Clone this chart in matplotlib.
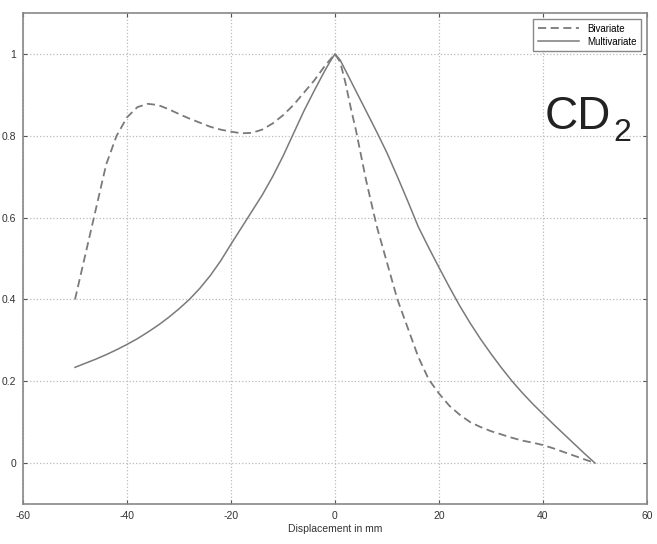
import numpy as np
import matplotlib.pyplot as plt

# Bivariate (dashed)
x_biv = [-50, -48, -46, -44, -42, -40, -38, -36, -34, -32, -30, -28, -26, -24, -22,
         -20, -18, -16, -14, -12, -10, -8, -6, -4, -2, 0, 1, 2, 3, 4, 6, 8, 10,
         12, 14, 16, 18, 20, 22, 24, 26, 28, 30, 32, 34, 36, 38, 40, 42, 44, 46, 48, 50]
y_biv = [0.40, 0.51, 0.62, 0.73, 0.80, 0.845, 0.87, 0.878, 0.875, 0.865, 0.853, 0.842,
         0.832, 0.822, 0.815, 0.81, 0.806, 0.807, 0.815, 0.83, 0.85, 0.875, 0.905, 0.935,
         0.97, 1.0, 0.98, 0.93, 0.87, 0.815, 0.69, 0.58, 0.49, 0.40, 0.33, 0.26, 0.205,
         0.17, 0.14, 0.118, 0.10, 0.088, 0.078, 0.07, 0.062, 0.055, 0.05, 0.044, 0.036,
         0.027, 0.018, 0.009, 0.0]

# Multivariate (solid)
x_mul = [-50, -48, -46, -44, -42, -40, -38, -36, -34, -32, -30, -28, -26, -24, -22,
         -20, -18, -16, -14, -12, -10, -8, -6, -4, -2, -1, 0, 1, 2, 4, 6, 8, 10,
         12, 14, 16, 18, 20, 22, 24, 26, 28, 30, 32, 34, 36, 38, 40, 42, 44, 46, 48, 50]
y_mul = [0.234, 0.244, 0.254, 0.265, 0.277, 0.29, 0.304, 0.32, 0.337, 0.356, 0.377,
         0.40, 0.427, 0.458, 0.494, 0.535, 0.575, 0.615, 0.655, 0.70, 0.75, 0.805,
         0.86, 0.91, 0.958, 0.98, 1.0, 0.985, 0.96, 0.91, 0.86, 0.81, 0.758, 0.70,
         0.64, 0.578, 0.527, 0.478, 0.43, 0.384, 0.342, 0.303, 0.267, 0.233, 0.201,
         0.172, 0.145, 0.12, 0.095, 0.071, 0.047, 0.023, 0.0]

xticks = [-60, -40, -20, 0, 20, 40, 60]
yticks = [0, 0.2, 0.4, 0.6, 0.8, 1]
ytick_labels = ['0', '0.2', '0.4', '0.6', '0.8', '1']

plt.rcParams['font.family'] = ['Liberation Sans', 'DejaVu Sans']
plt.rcParams['axes.unicode_minus'] = False

fig = plt.figure(figsize=(6.57, 5.44), dpi=100)
ax = fig.add_axes([23/657, 1-504/544, 624/657, 491/544])

ax.plot(x_biv, y_biv, color='#7a7a7a', lw=1.3, ls=(0, (4.5, 2.5)), label='Bivariate')
ax.plot(x_mul, y_mul, color='#7a7a7a', lw=1.1, ls='-', label='Multivariate')

ax.set_xlim(-60, 60)
ax.set_ylim(-0.1, 1.1)
ax.set_xticks(xticks)
ax.set_yticks(yticks)
ax.set_yticklabels(ytick_labels)
ax.grid(True, ls=':', color='#bbbbbb', lw=0.9)
ax.tick_params(direction='in', length=3, top=True, right=True, labelsize=7.5,
               colors='#555555', labelcolor='#333333', pad=5)
for s in ax.spines.values():
    s.set_color('#888888')
    s.set_linewidth(1.2)

ax.set_xlabel('Displacement in mm', fontsize=7.5, color='#333333', labelpad=2)

leg = ax.legend(loc='upper right', fontsize=7, handlelength=4.2, fancybox=False,
                framealpha=1, edgecolor='#888888', borderpad=0.5, labelspacing=0.3,
                borderaxespad=0.6)
leg.get_frame().set_linewidth(1.0)

ax.text(40.4, 0.817, 'CD', fontsize=33, color='#222222', ha='left', va='baseline')
ax.text(53.5, 0.788, '2', fontsize=23, color='#222222', ha='left', va='baseline')

fig.savefig('out.png', dpi=100)
